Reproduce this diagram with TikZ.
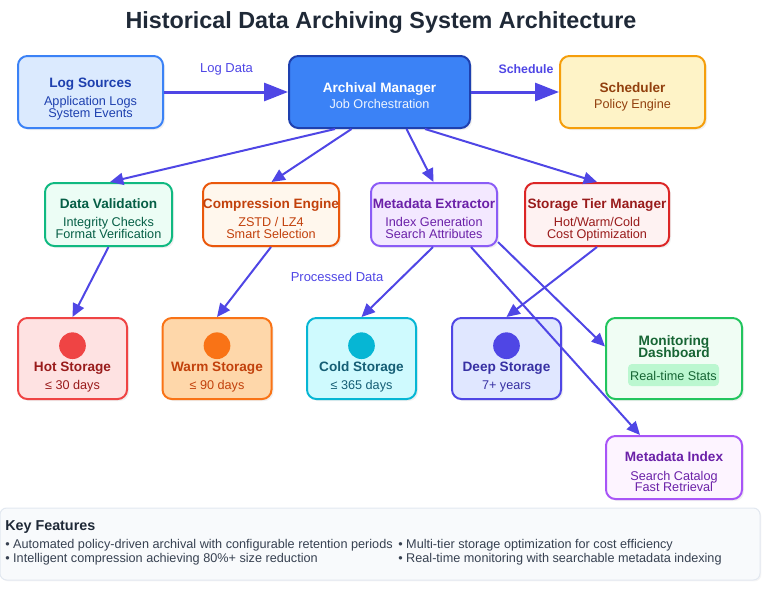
\documentclass[tikz,border=0pt]{standalone}
\usepackage{fontspec}
\setmainfont{Liberation Sans}
\usetikzlibrary{arrows.meta,calc,shadows}
\definecolor{edgec}{HTML}{4F46E5}
\definecolor{titlec}{HTML}{1F2937}
\definecolor{lsfill}{HTML}{DBEAFE}\definecolor{lsdraw}{HTML}{3B82F6}\definecolor{lstext}{HTML}{1E40AF}
\definecolor{amfill}{HTML}{3B82F6}\definecolor{amdraw}{HTML}{1E40AF}
\definecolor{schfill}{HTML}{FEF3C7}\definecolor{schdraw}{HTML}{F59E0B}\definecolor{schtext}{HTML}{92400E}
\definecolor{dvfill}{HTML}{ECFDF5}\definecolor{dvdraw}{HTML}{10B981}\definecolor{dvtext}{HTML}{065F46}
\definecolor{cefill}{HTML}{FFF7ED}\definecolor{cedraw}{HTML}{EA580C}\definecolor{cetext}{HTML}{C2410C}
\definecolor{mefill}{HTML}{F3E8FF}\definecolor{medraw}{HTML}{8B5CF6}\definecolor{metext}{HTML}{6B21A8}
\definecolor{stfill}{HTML}{FEF2F2}\definecolor{stdraw}{HTML}{DC2626}\definecolor{sttext}{HTML}{991B1B}
\definecolor{hotfill}{HTML}{FEE2E2}\definecolor{hotdraw}{HTML}{EF4444}\definecolor{hottext}{HTML}{991B1B}
\definecolor{warmfill}{HTML}{FED7AA}\definecolor{warmdraw}{HTML}{F97316}\definecolor{warmtext}{HTML}{C2410C}
\definecolor{coldfill}{HTML}{CFFAFE}\definecolor{colddraw}{HTML}{06B6D4}\definecolor{coldtext}{HTML}{155E75}
\definecolor{deepfill}{HTML}{E0E7FF}\definecolor{deepdraw}{HTML}{4F46E5}\definecolor{deeptext}{HTML}{3730A3}
\definecolor{monfill}{HTML}{F0FDF4}\definecolor{mondraw}{HTML}{22C55E}\definecolor{montext}{HTML}{166534}\definecolor{monbadge}{HTML}{BBF7D0}
\definecolor{idxfill}{HTML}{FDF4FF}\definecolor{idxdraw}{HTML}{A855F7}\definecolor{idxtext}{HTML}{6B21A8}
\definecolor{kffill}{HTML}{F8FAFC}\definecolor{kfdraw}{HTML}{E2E8F0}\definecolor{kftext}{HTML}{374151}
\tikzset{
  box/.style={draw, rounded corners=7pt, line width=1.5pt, inner sep=0pt,
    drop shadow={opacity=0.12, shadow xshift=1.5pt, shadow yshift=-1.5pt}},
  topbox/.style={box, minimum width=108.75pt, minimum height=54pt},
  midbox/.style={box, minimum height=47.25pt},
  storebox/.style={box, minimum width=81.75pt, minimum height=60.75pt},
  ttl/.style={font=\bfseries\fontsize{10.2}{12}\selectfont, anchor=base, inner sep=0pt},
  subt/.style={font=\fontsize{9.5}{11}\selectfont, anchor=base, inner sep=0pt},
  dot/.style={circle, minimum size=20pt, inner sep=0pt},
  lbl/.style={font=\fontsize{9.75}{11}\selectfont, text=edgec, inner sep=0pt},
  conn/.style={draw=edgec, line width=1.5pt, -{Triangle[length=10pt,width=9pt]}},
  bigconn/.style={draw=edgec, line width=2.25pt, -{Triangle[length=18pt,width=13.5pt]}},
  kfline/.style={font=\fontsize{9.5}{11}\selectfont, text=kftext, anchor=base west, inner sep=0pt}
}
\begin{document}
\begin{tikzpicture}[x=0.75pt,y=-0.75pt]
\useasboundingbox (0,0) rectangle (770,596);
% title
\node[font=\bfseries\fontsize{17.5}{21}\selectfont, text=titlec, anchor=base, inner sep=0pt] (title) at (381,28.5) {Historical Data Archiving System Architecture};

% top row
\node[topbox, fill=lsfill, draw=lsdraw] (ls) at (90.5,92) {};
\node[ttl, text=lstext] (ls-t) at (90.5,87) {Log Sources};
\node[subt, text=lstext] (ls-s1) at (90.5,105) {Application Logs};
\node[subt, text=lstext] (ls-s2) at (90.5,117.5) {System Events};

\node[box, fill=amfill, draw=amdraw, minimum width=135.75pt, minimum height=54pt] (am) at (379.5,92) {};
\node[ttl, text=white] (am-t) at (379.5,92.7) {Archival Manager};
\node[subt, text=white!92!amfill] (am-s) at (379.5,108) {Job Orchestration};

\node[topbox, fill=schfill, draw=schdraw] (sch) at (632.5,92) {};
\node[ttl, text=schtext] (sch-t) at (632.5,92.7) {Scheduler};
\node[subt, text=schtext] (sch-s) at (632.5,108) {Policy Engine};

% middle row
\node[midbox, fill=dvfill, draw=dvdraw, minimum width=95.25pt] (dv) at (108.5,214.5) {};
\node[ttl, text=dvtext] (dv-t) at (108.5,208.3) {Data Validation};
\node[subt, text=dvtext] (dv-s1) at (108.5,226.7) {Integrity Checks};
\node[subt, text=dvtext] (dv-s2) at (108.5,238.3) {Format Verification};

\node[midbox, fill=cefill, draw=cedraw, minimum width=102pt] (ce) at (271,214.5) {};
\node[ttl, text=cetext] (ce-t) at (271,208.3) {Compression Engine};
\node[subt, text=cetext] (ce-s1) at (271,226.7) {ZSTD / LZ4};
\node[subt, text=cetext] (ce-s2) at (271,238.3) {Smart Selection};

\node[midbox, fill=mefill, draw=medraw, minimum width=94.5pt] (me) at (434,214.5) {};
\node[ttl, text=metext] (me-t) at (434,208.3) {Metadata Extractor};
\node[subt, text=metext] (me-s1) at (434,226.7) {Index Generation};
\node[subt, text=metext] (me-s2) at (434,238.3) {Search Attributes};

\node[midbox, fill=stfill, draw=stdraw, minimum width=108pt] (stm) at (597,214.5) {};
\node[ttl, text=sttext] (stm-t) at (597,208.3) {Storage Tier Manager};
\node[subt, text=sttext] (stm-s1) at (597,226.7) {Hot/Warm/Cold};
\node[subt, text=sttext] (stm-s2) at (597,238.3) {Cost Optimization};

% storage row
\node[storebox, fill=hotfill, draw=hotdraw] (hot) at (72.5,358.5) {};
\node[dot, fill=hotdraw] (hot-c) at (72.5,345.7) {};
\node[ttl, text=hottext] (hot-t) at (72.5,371.7) {Hot Storage};
\node[subt, text=hottext] (hot-s) at (72.5,389.3) {≤ 30 days};

\node[storebox, fill=warmfill, draw=warmdraw] (warm) at (217,358.5) {};
\node[dot, fill=warmdraw] (warm-c) at (217,345.7) {};
\node[ttl, text=warmtext] (warm-t) at (217,371.7) {Warm Storage};
\node[subt, text=warmtext] (warm-s) at (217,389.3) {≤ 90 days};

\node[storebox, fill=coldfill, draw=colddraw] (cold) at (361.5,358.5) {};
\node[dot, fill=colddraw] (cold-c) at (361.5,345.7) {};
\node[ttl, text=coldtext] (cold-t) at (361.5,371.7) {Cold Storage};
\node[subt, text=coldtext] (cold-s) at (361.5,389.3) {≤ 365 days};

\node[storebox, fill=deepfill, draw=deepdraw] (deep) at (506.5,358.5) {};
\node[dot, fill=deepdraw] (deep-c) at (506.5,345.7) {};
\node[ttl, text=deeptext] (deep-t) at (506.5,371.7) {Deep Storage};
\node[subt, text=deeptext] (deep-s) at (506.5,389.3) {7+ years};

\node[box, fill=monfill, draw=mondraw, minimum width=102pt, minimum height=60.75pt] (mon) at (674,358.5) {};
\node[ttl, text=montext, font=\bfseries\fontsize{10.25}{12}\selectfont] (mon-t1) at (674,345) {Monitoring};
\node[ttl, text=montext, font=\bfseries\fontsize{10.25}{12}\selectfont] (mon-t2) at (674,357.3) {Dashboard};
\node[fill=monbadge, rounded corners=3pt, minimum width=68.25pt, minimum height=16.5pt, inner sep=0pt] (mon-b) at (673.5,375) {};
\node[subt, text=montext] (mon-s) at (673.5,380.7) {Real-time Stats};

\node[box, fill=idxfill, draw=idxdraw, minimum width=102pt, minimum height=47.25pt] (idx) at (674,467.5) {};
\node[ttl, text=idxtext] (idx-t) at (674,461.7) {Metadata Index};
\node[subt, text=idxtext] (idx-s1) at (674,480) {Search Catalog};
\node[subt, text=idxtext] (idx-s2) at (674,491.7) {Fast Retrieval};

% key features
\node[draw=kfdraw, fill=kffill, line width=0.75pt, rounded corners=5pt, minimum width=570pt, minimum height=54pt, inner sep=0pt,
  drop shadow={opacity=0.08, shadow xshift=1pt, shadow yshift=-1pt}] (kf) at (380,544) {};
\node[font=\bfseries\fontsize{10.75}{12}\selectfont, text=titlec, anchor=base west, inner sep=0pt] (kf-t) at (5,530.7) {Key Features};
\node[kfline] (kf-1) at (5,548) {• Automated policy-driven archival with configurable retention periods};
\node[kfline] (kf-2) at (5,562.7) {• Intelligent compression achieving 80\%+ size reduction};
\node[kfline] (kf-3) at (398,548) {• Multi-tier storage optimization for cost efficiency};
\node[kfline] (kf-4) at (398,562.7) {• Real-time monitoring with searchable metadata indexing};

% connectors
\draw[bigconn] (ls.east) -- (am.west);
\node[lbl] (l-log) at (226.5,69.5) {Log Data};
\draw[bigconn] (am.east) -- (sch.west);
\node[lbl, font=\bfseries\fontsize{9.25}{11}\selectfont] (l-sch) at (526,69.5) {Schedule};

\draw[conn] ($(am.south)+(-44.5,0)$) -- ($(dv.north)+(1.5,0)$);
\draw[conn] ($(am.south)+(-28,0)$) -- ($(ce.north)+(0.5,0)$);
\draw[conn] ($(am.south)+(27,0)$) -- ($(me.north)+(-0.5,0)$);
\draw[conn] ($(am.south)+(45.5,0)$) -- (stm.north);

\draw[conn] (dv.south) -- (hot.north);
\draw[conn] (ce.south) -- (warm.north);
\draw[conn] ($(me.south)+(-1,0)$) -- (cold.north);
\node[lbl] (l-proc) at (337,277.3) {Processed Data};
\draw[conn] (stm.south) -- (deep.north);
\draw[conn] ($(me.south)+(37,0)$) -- ($(idx.north)+(-34,0)$);
\draw[conn] ($(me.south east)+(0,-5)$) -- ($(mon.west)+(0,-12)$);
\end{tikzpicture}
\end{document}
